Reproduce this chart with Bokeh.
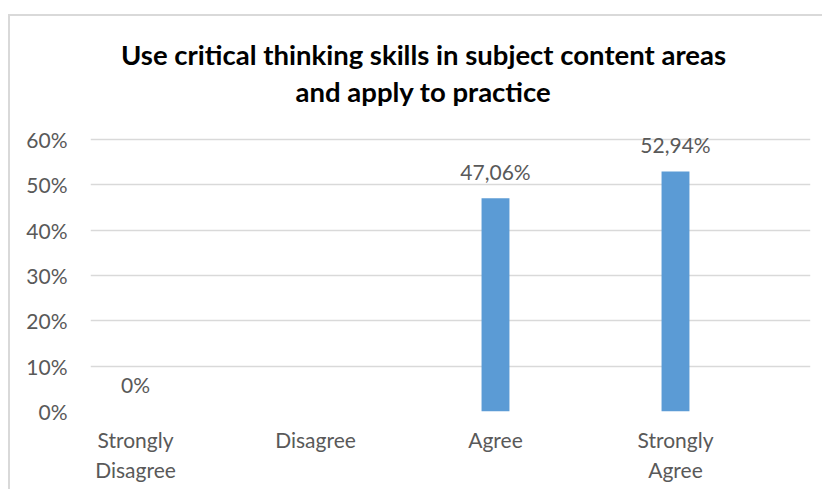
import numpy as np
from bokeh.plotting import figure
from bokeh.models import (Range1d, FixedTicker, NumeralTickFormatter,
                          ColumnDataSource, Label)
from bokeh.core.properties import value
from bokeh.embed import file_html
from bokeh.resources import INLINE

# ---- data ----
categories = ["Strongly Disagree", "Disagree", "Agree", "Strongly Agree"]
tick_labels = ["Strongly\nDisagree", "Disagree", "Agree", "Strongly\nAgree"]
shares = [0.0, np.nan, 0.4706, 0.5294]   # Disagree has no value shown
y_ticks = [0.0, 0.1, 0.2, 0.3, 0.4, 0.5, 0.6]
title_lines = ["Use critical thinking skills in subject content areas",
               "and apply to practice"]

FONT = "Lato"
GRAY = "#595959"
GRID = "#D9D9D9"
BAR = "#5B9BD5"

# ---- layout (pixels on the canvas) ----
W, H = 814, 475
LEFT, RIGHT, BOTTOM = 80, 14, 80
AXIS_TOP_PX = 123          # where the 60% gridline sits, from canvas top
PLOT_H = H - BOTTOM        # frame extends to the canvas top (room for the title)
y_max = y_ticks[-1]
y_end = y_max * PLOT_H / (PLOT_H - AXIS_TOP_PX)
px_per_unit = (PLOT_H - AXIS_TOP_PX) / y_max
x_px_per_cat = (W - LEFT - RIGHT) / 4.0

xpos = [i + 0.5 for i in range(len(categories))]
vals = np.array(shares, dtype=float)


def fmt(v):
    if np.isnan(v):
        return ""
    if v == 0:
        return "0%"
    return f"{v*100:.2f}%".replace(".", ",")


labels = [fmt(v) for v in vals]
src = ColumnDataSource(dict(x=xpos, top=vals, label=labels))

p = figure(width=W, height=H, output_backend="svg", toolbar_location=None,
           title=None,
           x_range=Range1d(0.25, 4.25), y_range=Range1d(0, y_end),
           min_border_left=LEFT, min_border_right=RIGHT,
           min_border_top=0, min_border_bottom=BOTTOM)
p.styles = {"margin-top": "14px", "margin-left": "8px",
            "border-top": "2px solid #D9D9D9", "border-left": "2px solid #D9D9D9"}
p.outline_line_color = None
p.background_fill_color = "white"
p.border_fill_color = "white"

# title: two centred lines
title_cx = 0.25 + (413 - LEFT) / x_px_per_cat
for txt, base_px in zip(title_lines, [38, 75]):
    p.add_layout(Label(x=title_cx, y=(PLOT_H - base_px) / px_per_unit,
                       text=txt, text_align="center", text_baseline="alphabetic",
                       text_font=FONT, text_font_style="bold",
                       text_font_size="27.5px", text_color="#000000"))

p.vbar(x="x", top="top", width=0.155, bottom=0, source=src,
       fill_color=BAR, line_color=None)
p.text(x="x", y="top", text="label", source=src, text_align="center",
       text_baseline="alphabetic", y_offset=-27, text_color=GRAY,
       text_font=value(FONT), text_font_size="21px")

# axes
p.yaxis.ticker = FixedTicker(ticks=y_ticks)
p.yaxis.formatter = NumeralTickFormatter(format="0%")
p.yaxis.axis_line_color = None
p.yaxis.major_tick_line_color = None
p.yaxis.minor_tick_line_color = None
p.yaxis.major_label_standoff = 17
p.yaxis.major_label_text_font = FONT
p.yaxis.major_label_text_font_size = "21px"
p.yaxis.major_label_text_color = GRAY

p.xaxis.ticker = FixedTicker(ticks=xpos)
p.xaxis.major_label_overrides = {x: t for x, t in zip(xpos, tick_labels)}
p.xaxis.axis_line_color = None
p.xaxis.major_tick_line_color = None
p.xaxis.minor_tick_line_color = None
p.xaxis.major_label_standoff = 9
p.xaxis.major_label_text_font = FONT
p.xaxis.major_label_text_font_size = "21px"
p.xaxis.major_label_text_color = GRAY
p.xaxis.major_label_text_line_height = 1.2

p.xgrid.grid_line_color = None
p.ygrid.ticker = FixedTicker(ticks=y_ticks)
p.ygrid.grid_line_color = GRID
p.ygrid.grid_line_width = 1.5

open("out.html", "w").write(file_html(p, INLINE))
